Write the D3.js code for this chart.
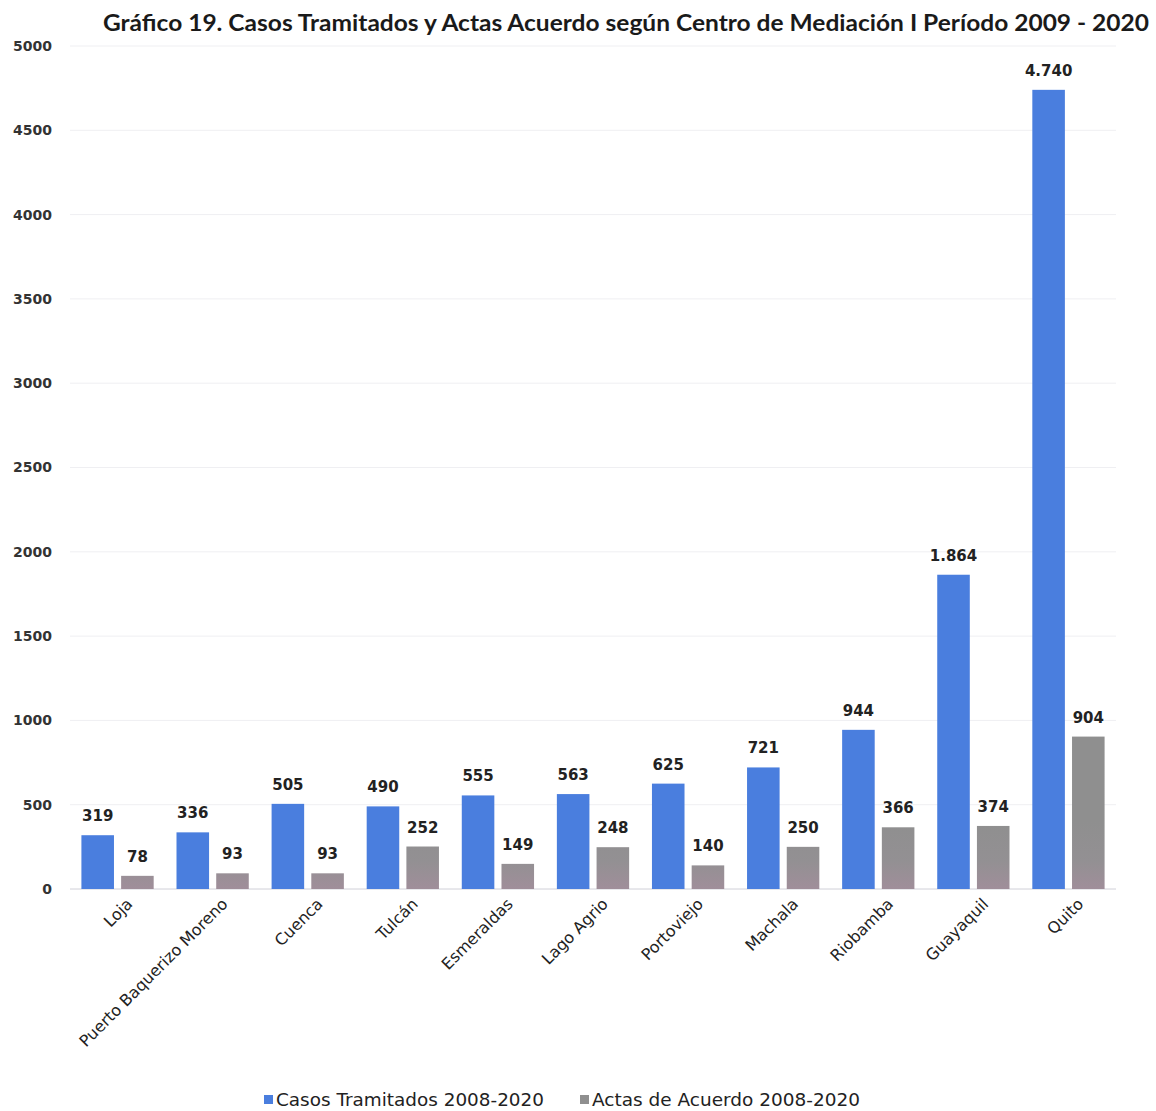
<!DOCTYPE html>
<html>
<head>
<meta charset="utf-8">
<script src="https://cdn.jsdelivr.net/npm/d3@7"></script>
<style>
  html, body { margin: 0; padding: 0; background: #fff; }
  svg { display: block; }
</style>
</head>
<body>
<svg id="chart" width="1156" height="1111"></svg>
<script>
// Centros de mediación y sus totales 2008-2020
const centros = ["Loja", "Puerto Baquerizo Moreno", "Cuenca", "Tulcán", "Esmeraldas",
  "Lago Agrio", "Portoviejo", "Machala", "Riobamba", "Guayaquil", "Quito"];
const casosTramitados = [319, 336, 505, 490, 555, 563, 625, 721, 944, 1864, 4740];
const actasAcuerdo = [78, 93, 93, 252, 149, 248, 140, 250, 366, 374, 904];
const yTicks = [0, 500, 1000, 1500, 2000, 2500, 3000, 3500, 4000, 4500, 5000];
const seriesNames = ["Casos Tramitados 2008-2020", "Actas de Acuerdo 2008-2020"];
const seriesColors = ["#4a7ede", "#8f8f8f"];

const svg = d3.select("#chart");
const margin = { top: 46, left: 70, right: 40, bottom: 222 };
const width = 1156, height = 1111;
const plotW = width - margin.left - margin.right;
const plotH = height - margin.top - margin.bottom;

const es = d3.formatLocale({ decimal: ",", thousands: ".", grouping: [3], currency: ["$", ""] });
const fmt = es.format(",d");

const x = d3.scaleBand().domain(centros).range([0, plotW]).paddingInner(0.24).paddingOuter(0.12);
const xs = d3.scaleBand().domain([0, 1]).range([0, x.bandwidth()]).paddingInner(0.18);
const y = d3.scaleLinear().domain([0, 5000]).range([plotH, 0]);

// Gray bars fade to a muted mauve near the baseline
const defs = svg.append("defs");
const grad = defs.append("linearGradient")
  .attr("id", "actasFill")
  .attr("gradientUnits", "userSpaceOnUse")
  .attr("x1", 0).attr("x2", 0)
  .attr("y1", y(400)).attr("y2", y(0));
grad.append("stop").attr("offset", 0).attr("stop-color", "#8f8f8f");
grad.append("stop").attr("offset", 0.6).attr("stop-color", "#939093");
grad.append("stop").attr("offset", 1).attr("stop-color", "#a08e9a");
const barFill = ["#4a7ede", "url(#actasFill)"];

const g = svg.append("g").attr("transform", `translate(${margin.left},${margin.top})`);

// Title
svg.append("text")
  .attr("x", 626).attr("y", 31)
  .attr("text-anchor", "middle")
  .attr("font-family", "Lato, 'Open Sans', sans-serif")
  .attr("font-weight", "bold")
  .attr("font-size", 23)
  .attr("textLength", 1046)
  .attr("lengthAdjust", "spacingAndGlyphs")
  .attr("fill", "#1a1a1a")
  .text("Gráfico 19. Casos Tramitados y Actas Acuerdo según Centro de Mediación I Período 2009 - 2020");

// Gridlines
g.append("g")
  .selectAll("line")
  .data(yTicks)
  .join("line")
  .attr("x1", 0).attr("x2", plotW)
  .attr("y1", d => y(d)).attr("y2", d => y(d))
  .attr("stroke", d => d === 0 ? "#d0d0d8" : "#efeff2")
  .attr("stroke-width", 1);

// Y axis
const yAxis = g.append("g")
  .call(d3.axisLeft(y).tickValues(yTicks).tickSize(0).tickPadding(18).tickFormat(d3.format("d")));
yAxis.select(".domain").remove();
yAxis.selectAll("text")
  .attr("font-family", "'DejaVu Sans', sans-serif")
  .attr("font-weight", "bold")
  .attr("font-size", 14)
  .attr("fill", "#333");

// Bars
const groups = g.append("g").selectAll("g")
  .data(centros.map((c, i) => ({ c, vals: [casosTramitados[i], actasAcuerdo[i]] })))
  .join("g")
  .attr("transform", d => `translate(${x(d.c)},0)`);

groups.selectAll("rect")
  .data(d => d.vals.map((v, k) => ({ v, k })))
  .join("rect")
  .attr("x", d => xs(d.k))
  .attr("width", xs.bandwidth())
  .attr("y", d => y(d.v))
  .attr("height", d => plotH - y(d.v))
  .attr("fill", d => barFill[d.k]);

// Value labels
groups.selectAll("text")
  .data(d => d.vals.map((v, k) => ({ v, k })))
  .join("text")
  .attr("x", d => xs(d.k) + xs.bandwidth() / 2)
  .attr("y", d => y(d.v) - 14)
  .attr("text-anchor", "middle")
  .attr("font-family", "'DejaVu Sans', sans-serif")
  .attr("font-weight", "bold")
  .attr("font-size", 15)
  .attr("fill", "#222")
  .text(d => fmt(d.v));

// X axis labels
const xAxis = g.append("g")
  .attr("transform", `translate(0,${plotH})`)
  .call(d3.axisBottom(x).tickSize(0).tickPadding(0));
xAxis.select(".domain").remove();
xAxis.selectAll("text")
  .attr("font-family", "'DejaVu Sans', sans-serif")
  .attr("font-size", 16)
  .attr("fill", "#222")
  .attr("text-anchor", "end")
  .attr("dy", 0)
  .attr("transform", "translate(16,16) rotate(-45)");

// Legend
const legend = svg.append("g").attr("transform", "translate(264,1106)");
const legendX = [0, 316];
seriesNames.forEach((name, i) => {
  const item = legend.append("g").attr("transform", `translate(${legendX[i]},0)`);
  item.append("rect").attr("x", 0).attr("y", -11).attr("width", 9).attr("height", 9).attr("fill", seriesColors[i]);
  item.append("text")
    .attr("x", 12).attr("y", 0)
    .attr("font-family", "'DejaVu Sans', sans-serif")
    .attr("font-size", 17)
    .attr("textLength", 268)
    .attr("lengthAdjust", "spacingAndGlyphs")
    .attr("fill", "#222")
    .text(name);
});
</script>
</body>
</html>
